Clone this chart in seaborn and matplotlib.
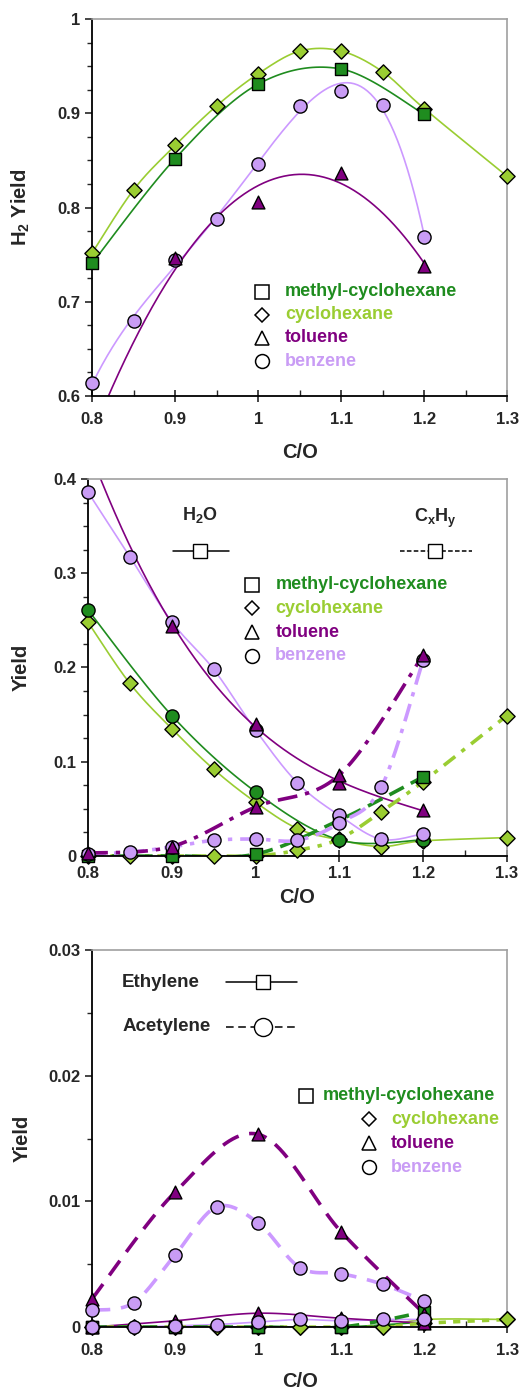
import numpy as np
import matplotlib
matplotlib.use('Agg')
import matplotlib.pyplot as plt
import matplotlib.ticker as mticker
import seaborn as sns

# --- 数据 ---
x5 = [0.8, 0.9, 1.0, 1.1, 1.2]
x_ch = [0.8, 0.85, 0.9, 0.95, 1.0, 1.05, 1.1, 1.15, 1.2, 1.3]
x_bz = [0.8, 0.85, 0.9, 0.95, 1.0, 1.05, 1.1, 1.15, 1.2]

# H2 yield (toluene 0.8 在坐标范围之外)
h2_mch = [0.741, 0.852, 0.931, 0.947, 0.899]
h2_ch = [0.752, 0.819, 0.866, 0.908, 0.942, 0.966, 0.966, 0.944, 0.905, 0.833]
h2_tol = [0.556, 0.746, 0.806, 0.837, 0.738]
h2_bz = [0.614, 0.680, 0.744, 0.788, 0.846, 0.908, 0.924, 0.909, 0.769]

# H2O yield (toluene 0.8 在坐标范围之外)
h2o_mch = [0.261, 0.149, 0.068, 0.017, 0.017]
h2o_ch = [0.248, 0.183, 0.135, 0.092, 0.057, 0.029, 0.017, 0.010, 0.016, 0.0195]
h2o_tol = [0.435, 0.244, 0.1405, 0.077, 0.0485]
h2o_bz = [0.386, 0.3175, 0.2485, 0.198, 0.1335, 0.0775, 0.043, 0.0177, 0.0237]

# CxHy yield
cxhy_mch = [0.0, 0.0, 0.002, 0.038, 0.084]
cxhy_ch = [0.0, 0.0, 0.0, 0.0, 0.0, 0.006, 0.018, 0.047, 0.079, 0.149]
cxhy_tol = [0.003, 0.010, 0.052, 0.086, 0.213]
cxhy_bz = [0.002, 0.004, 0.0096, 0.0166, 0.018, 0.0166, 0.035, 0.073, 0.208]

# ethylene / acetylene yield
eth_mch = [0.0, 0.0, 0.0, 0.0, 0.0004]
eth_ch = [0.0, 0.0, 0.0, 0.0, 0.0, 0.0, 0.0, 0.0, 0.0006, 0.0006]
eth_tol = [0.0, 0.0005, 0.0011, 0.0007, 0.0003]
eth_bz = [0.0, 0.0, 0.0001, 0.0002, 0.0004, 0.0006, 0.0005, 0.0006, 0.0006]
ac_mch = [0.0, 0.0, 0.0, 0.0, 0.0012]
ac_ch = [0.0, 0.0, 0.0, 0.0, 0.0, 0.0, 0.0, 0.0, 0.0003, 0.0006]
ac_tol = [0.00226, 0.01075, 0.01534, 0.00757, 0.00106]
ac_bz = [0.00133, 0.00194, 0.00576, 0.00956, 0.00828, 0.00473, 0.00425, 0.0034, 0.00207]

species = ['methyl-cyclohexane', 'cyclohexane', 'toluene', 'benzene']
C_MCH, C_CH, C_TOL, C_BZ = '#1f8c1f', '#9acd32', '#800080', '#c99cf5'
C_BZ_LINE = '#cc99ff'
colors = [C_MCH, C_CH, C_TOL, C_BZ]
markers = ['s', 'D', '^', 'o']

# --- 样式 ---
sns.set_style('ticks')
plt.rcParams['font.family'] = ['Liberation Sans', 'DejaVu Sans']
plt.rcParams['font.weight'] = 'bold'
plt.rcParams['mathtext.fontset'] = 'custom'
plt.rcParams['mathtext.rm'] = 'Liberation Sans:bold'
plt.rcParams['mathtext.it'] = 'Liberation Sans:bold'
plt.rcParams['mathtext.bf'] = 'Liberation Sans:bold'


def smooth(x, y, n=24):
    # Excel风格的平滑线 (Bezier)
    p = np.column_stack([x, y]).astype(float)
    out = []
    for i in range(len(p) - 1):
        p0 = p[i - 1] if i > 0 else p[i]
        p3 = p[i + 2] if i + 2 < len(p) else p[i + 1]
        c1 = p[i] + (p[i + 1] - p0) / 6
        c2 = p[i + 1] - (p3 - p[i]) / 6
        t = np.linspace(0, 1, n)[:, None]
        seg = (1 - t) ** 3 * p[i] + 3 * (1 - t) ** 2 * t * c1 + 3 * (1 - t) * t ** 2 * c2 + t ** 3 * p[i + 1]
        out.append(seg if i == 0 else seg[1:])
    s = np.vstack(out)
    return s[:, 0], s[:, 1]


def trend(x, y, deg):
    # 多项式趋势线
    c = np.polyfit(x, y, deg)
    xs = np.linspace(x[0], x[-1], 200)
    return xs, np.polyval(c, xs)


def curve(ax, xs, ys, color, lw=1.2, ls='-'):
    sns.lineplot(x=xs, y=ys, ax=ax, color=color, lw=lw, linestyle=ls,
                 sort=False, estimator=None, zorder=2)


def points(ax, x, y, color, marker, size=80, lim=(0, 1)):
    x, y = np.asarray(x), np.asarray(y)
    keep = (y >= lim[0]) & (y <= lim[1])
    sns.scatterplot(x=x[keep], y=y[keep], ax=ax, color=color, marker=marker, s=size,
                    edgecolor='black', linewidth=1.0, zorder=4, clip_on=False)


def style_axes(ax, ylim, ymajor, yminor, ylabel, xlabel_y, ylabel_x, xpad):
    ax.set_xlim(0.8, 1.3)
    ax.set_ylim(*ylim)
    ax.xaxis.set_major_locator(mticker.MultipleLocator(0.1))
    ax.xaxis.set_minor_locator(mticker.MultipleLocator(0.05))
    ax.yaxis.set_major_locator(mticker.MultipleLocator(ymajor))
    ax.yaxis.set_minor_locator(mticker.MultipleLocator(yminor))
    fmt = mticker.FuncFormatter(lambda v, p: '{:g}'.format(round(v, 4)))
    ax.xaxis.set_major_formatter(fmt)
    ax.yaxis.set_major_formatter(fmt)
    ax.tick_params(axis='x', which='major', direction='inout', length=9, width=1.2, labelsize=12, pad=xpad)
    ax.tick_params(axis='x', which='minor', direction='in', length=4, width=1)
    ax.tick_params(axis='y', which='major', direction='out', length=5, width=1.2, labelsize=12)
    ax.tick_params(axis='y', which='minor', direction='out', length=3.5, width=1)
    for lab in ax.get_xticklabels() + ax.get_yticklabels():
        lab.set_fontweight('bold')
    for s in ['left', 'bottom']:
        ax.spines[s].set_color('black')
        ax.spines[s].set_linewidth(1.3)
    for s in ['top', 'right']:
        ax.spines[s].set_color('#a0a0a0')
        ax.spines[s].set_linewidth(1.2)
    ax.set_xlabel('C/O', fontsize=14.5, fontweight='bold')
    ax.set_ylabel(ylabel, fontsize=14.5, fontweight='bold')
    ax.xaxis.set_label_coords(0.5, xlabel_y)
    ax.xaxis.label.set_va('top')
    ax.yaxis.set_label_coords(ylabel_x, 0.5)


def species_legend(ax, mx, tx, ys, fs=13):
    for m, lab, c, y in zip(markers, species, colors, ys):
        ax.plot([mx[lab] if isinstance(mx, dict) else mx], [y], marker=m, ms=10 if m != 'D' else 7,
                mfc='white', mec='black', mew=1.1, transform=ax.transAxes, clip_on=False, ls='none')
        ax.text(tx[lab] if isinstance(tx, dict) else tx, y, lab, color=c, fontsize=fs,
                fontweight='bold', va='center', ha='left', transform=ax.transAxes)


fig = plt.figure(figsize=(5.27, 13.9), dpi=100)

# --- 图1: H2 yield ---
lim1 = (0.6, 1.0)
ax1 = fig.add_axes([0.175, 0.7151, 0.7875, 0.2712])
curve(ax1, *smooth(x_ch, h2_ch), C_CH)
curve(ax1, *smooth(x5, h2_mch), C_MCH)
curve(ax1, *trend(x_bz, h2_bz, 4), C_BZ_LINE)
curve(ax1, *trend(x5, h2_tol, 2), C_TOL)
points(ax1, x_ch, h2_ch, C_CH, 'D', 60, lim1)
points(ax1, x5, h2_mch, C_MCH, 's', 85, lim1)
points(ax1, x_bz, h2_bz, C_BZ, 'o', 90, lim1)
points(ax1, x5, h2_tol, C_TOL, '^', 85, lim1)
style_axes(ax1, lim1, 0.1, 0.025, 'H$_2$ Yield', -0.125, -0.145, 7)
species_legend(ax1, 0.41, 0.465, [0.276, 0.216, 0.154, 0.092])

# --- 图2: H2O & CxHy yield ---
lim2 = (0, 0.4)
ax2 = fig.add_axes([0.167, 0.3842, 0.795, 0.2712])
curve(ax2, *smooth(x_ch, h2o_ch), C_CH)
curve(ax2, *smooth(x5, h2o_mch), C_MCH)
curve(ax2, *smooth(x_bz, h2o_bz), C_BZ_LINE)
curve(ax2, *trend(x5, h2o_tol, 3), C_TOL)
curve(ax2, *smooth(x_ch, cxhy_ch), C_CH, 2.6, (0, (4, 2.2, 1.2, 2.2)))
curve(ax2, *smooth(x5, cxhy_mch), C_MCH, 2.6, (0, (4.5, 2.2)))
curve(ax2, *smooth(x_bz, cxhy_bz), C_BZ_LINE, 2.6, (0, (5, 2.2, 1.2, 2.2)))
curve(ax2, *smooth(x5, cxhy_tol), C_TOL, 2.6, (0, (5.5, 2.2, 1.2, 2.2)))
points(ax2, x_ch, h2o_ch, C_CH, 'D', 60, lim2)
points(ax2, x_ch, cxhy_ch, C_CH, 'D', 60, lim2)
points(ax2, x5, h2o_mch, C_MCH, 'o', 90, lim2)
points(ax2, x5, cxhy_mch, C_MCH, 's', 85, lim2)
points(ax2, x_bz, h2o_bz, C_BZ, 'o', 90, lim2)
points(ax2, x_bz, cxhy_bz, C_BZ, 'o', 90, lim2)
points(ax2, x5, h2o_tol, C_TOL, '^', 85, lim2)
points(ax2, x5, cxhy_tol, C_TOL, '^', 85, lim2)
style_axes(ax2, lim2, 0.1, 0.025, 'Yield', -0.085, -0.136, 3)
species_legend(ax2, 0.391, 0.447, [0.719, 0.657, 0.594, 0.531])
# 线型说明
ax2.text(0.267, 0.905, 'H$_2$O', fontsize=13, fontweight='bold', ha='center', va='center', transform=ax2.transAxes)
ax2.plot([0.203, 0.337], [0.809, 0.809], color='black', lw=1.1, transform=ax2.transAxes)
ax2.plot([0.267], [0.809], marker='s', ms=10, mfc='white', mec='black', transform=ax2.transAxes)
ax2.text(0.828, 0.895, 'C$_x$H$_y$', fontsize=13, fontweight='bold', ha='center', va='center', transform=ax2.transAxes)
ax2.plot([0.745, 0.916], [0.809, 0.809], color='black', lw=1.1, ls=(0, (3, 1.5)), transform=ax2.transAxes)
ax2.plot([0.828], [0.809], marker='s', ms=10, mfc='white', mec='black', transform=ax2.transAxes)

# --- 图3: ethylene & acetylene yield ---
lim3 = (0, 0.03)
ax3 = fig.add_axes([0.175, 0.0453, 0.7875, 0.2712])
curve(ax3, *smooth(x_ch, eth_ch), C_CH)
curve(ax3, *smooth(x5, eth_mch), C_MCH)
curve(ax3, *smooth(x_bz, eth_bz), C_BZ_LINE)
curve(ax3, *smooth(x5, eth_tol), C_TOL)
curve(ax3, *smooth(x_ch, ac_ch), C_CH, 2.6, (0, (2, 2)))
curve(ax3, *smooth(x5, ac_mch), C_MCH, 2.6, (0, (4, 3)))
curve(ax3, *smooth(x_bz, ac_bz), C_BZ_LINE, 2.6, (0, (5, 3)))
curve(ax3, *smooth(x5, ac_tol), C_TOL, 2.6, (0, (5, 3)))
points(ax3, x_ch, eth_ch, C_CH, 'D', 60, lim3)
points(ax3, x_ch, ac_ch, C_CH, 'D', 60, lim3)
points(ax3, x5, eth_mch, C_MCH, 's', 85, lim3)
points(ax3, x5, ac_mch, C_MCH, 's', 85, lim3)
points(ax3, x5, eth_tol, C_TOL, '^', 85, lim3)
points(ax3, x5, ac_tol, C_TOL, '^', 85, lim3)
points(ax3, x_bz, eth_bz, C_BZ, 'o', 90, lim3)
points(ax3, x_bz, ac_bz, C_BZ, 'o', 90, lim3)
style_axes(ax3, lim3, 0.01, 0.005, 'Yield', -0.118, -0.147, 7)
species_legend(ax3, {'methyl-cyclohexane': 0.515, 'cyclohexane': 0.666, 'toluene': 0.666, 'benzene': 0.666},
               {'methyl-cyclohexane': 0.556, 'cyclohexane': 0.72, 'toluene': 0.72, 'benzene': 0.72},
               [0.613, 0.551, 0.488, 0.424])
ax3.text(0.072, 0.915, 'Ethylene', fontsize=13.5, fontweight='bold', ha='left', va='center', transform=ax3.transAxes)
ax3.plot([0.323, 0.494], [0.915, 0.915], color='black', lw=1.1, transform=ax3.transAxes)
ax3.plot([0.412], [0.915], marker='s', ms=10, mfc='white', mec='black', transform=ax3.transAxes)
ax3.text(0.072, 0.796, 'Acetylene', fontsize=13.5, fontweight='bold', ha='left', va='center', transform=ax3.transAxes)
ax3.plot([0.323, 0.494], [0.796, 0.796], color='black', lw=1.1, ls=(0, (5, 3)), transform=ax3.transAxes)
ax3.plot([0.412], [0.796], marker='o', ms=13, mfc='white', mec='black', transform=ax3.transAxes)

fig.savefig('out.png', dpi=100)
